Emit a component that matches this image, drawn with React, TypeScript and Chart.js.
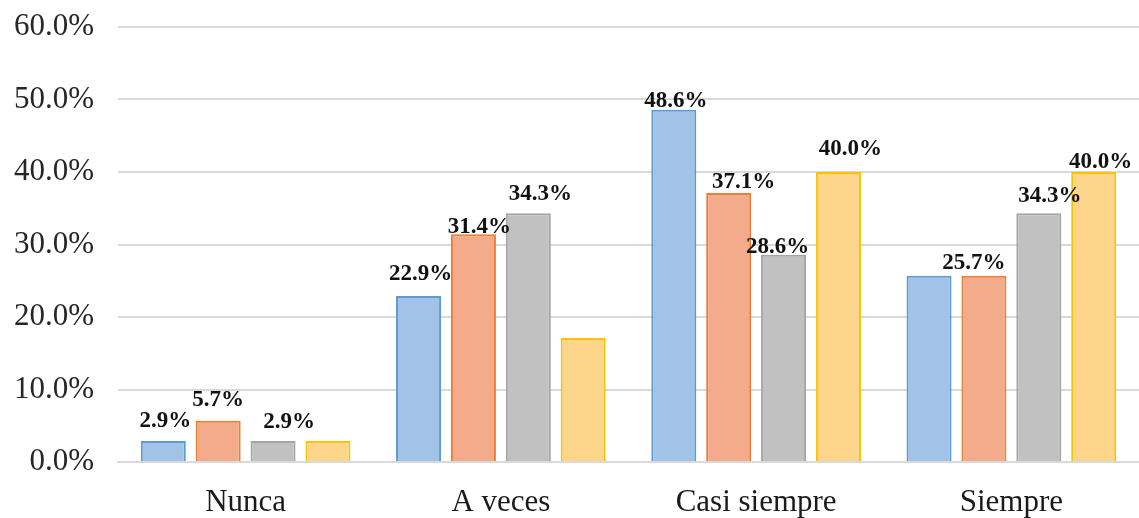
import React, { useEffect, useRef } from "react";
import { Chart, registerables } from "chart.js";

Chart.register(...registerables);

const categories = ["Nunca", "A veces", "Casi siempre", "Siempre"];
const seriesNames = ["Serie 1", "Serie 2", "Serie 3", "Serie 4"];
const serie1 = [2.9, 22.9, 48.6, 25.7];
const serie2 = [5.7, 31.4, 37.1, 25.7];
const serie3 = [2.9, 34.3, 28.6, 34.3];
const serie4 = [2.9, 17.1, 40.0, 40.0];
const yTicks = [0, 10, 20, 30, 40, 50, 60];

// which value labels are shown in the reference
const showLabels = [
  [true, true, true, false],
  [true, true, true, true],
  [true, true, true, true],
  [false, false, true, true],
];

// label nudges (style only): [dx, gap above bar top]
const labelNudge = [
  [[2, 14], [2, 16], [2, 3], [0, 0]],
  [[0, 15], [6, 1], [15, 5], [-10, 7]],
  [[16, 13], [12, 13], [-6, 2], [11, 11]],
  [[0, 0], [0, 0], [12, 17], [7, 4]],
];

const fills = ["#A3C2E8", "#F3AB8B", "#C1C1C1", "#FDD68C"];
const borders = ["#5B9BD5", "#ED7D31", "#A5A5A5", "#FFC000"];
const FONT = "'Liberation Serif', 'Times New Roman', serif";

export default function App() {
  const ref = useRef<HTMLCanvasElement | null>(null);

  useEffect(() => {
    document.body.style.margin = "0";
    const values = [serie1, serie2, serie3, serie4];
    const labelPlugin = {
      id: "valueLabels",
      afterDatasetsDraw(chart: any) {
        const ctx = chart.ctx;
        ctx.save();
        ctx.font = `bold 23px ${FONT}`;
        ctx.fillStyle = "#111111";
        ctx.textAlign = "center";
        ctx.textBaseline = "alphabetic";
        chart.data.datasets.forEach((ds: any, di: number) => {
          const meta = chart.getDatasetMeta(di);
          meta.data.forEach((bar: any, i: number) => {
            if (!showLabels[di][i]) return;
            const [dx, gap] = labelNudge[di][i];
            const v = ds.data[i] as number;
            ctx.fillText(v.toFixed(1) + "%", bar.x + dx, bar.y - gap);
          });
        });
        ctx.restore();
      },
    };

    const chart = new Chart(ref.current!, {
      type: "bar",
      data: {
        labels: categories,
        datasets: values.map((d, i) => ({
          label: seriesNames[i],
          data: d,
          backgroundColor: fills[i],
          borderColor: borders[i],
          borderWidth: 2,
          borderSkipped: "bottom",
          barPercentage: 0.82,
          categoryPercentage: 0.86,
        })),
      },
      options: {
        animation: false,
        responsive: false,
        maintainAspectRatio: false,
        layout: { padding: { top: 27, right: 0, left: 0, bottom: 0 } },
        plugins: {
          legend: { display: false },
          tooltip: { enabled: false },
        },
        scales: {
          x: {
            grid: { display: false, drawTicks: false },
            border: { display: true, color: "#D9D9D9", width: 2 },
            ticks: {
              font: { family: FONT, size: 31 },
              color: "#1a1a1a",
              padding: 22,
            },
            afterFit(scale: any) {
              scale.height = 56;
              scale.paddingLeft = 0;
              scale.paddingRight = 0;
            },
          },
          y: {
            min: 0,
            max: 60,
            afterBuildTicks(scale: any) {
              scale.ticks = yTicks.map((v) => ({ value: v }));
            },
            grid: { color: "#D9D9D9", lineWidth: 2, drawTicks: false },
            border: { display: false },
            ticks: {
              font: { family: FONT, size: 31 },
              color: "#262626",
              padding: 24,
              callback: (v: any) => Number(v).toFixed(1) + "%",
            },
            afterFit(scale: any) {
              scale.width = 118;
              scale.paddingTop = 0;
              scale.paddingBottom = 0;
            },
          },
        },
      },
      plugins: [labelPlugin],
    });
    return () => chart.destroy();
  }, []);

  return (
    <div style={{ width: 1139, height: 518 }}>
      <canvas ref={ref} width={1139} height={518} style={{ display: "block" }} />
    </div>
  );
}
